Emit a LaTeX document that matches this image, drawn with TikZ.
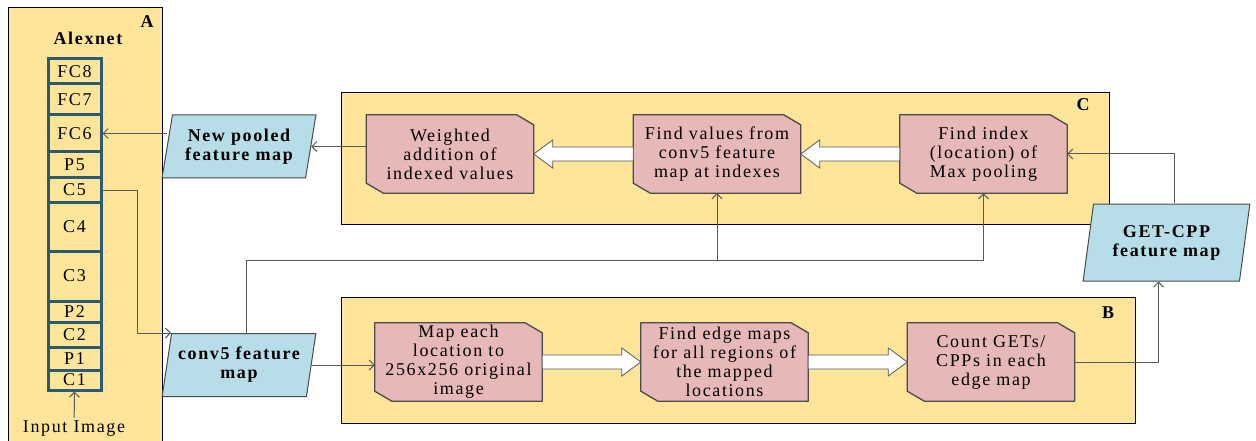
\documentclass[tikz,border=0pt]{standalone}
\usepackage{fontspec}
\setmainfont{Liberation Serif}[LetterSpace=9]
\usetikzlibrary{shapes.geometric,arrows.meta,calc}

\definecolor{panelyellow}{HTML}{FFE599}
\definecolor{mapblue}{HTML}{B7DDE8}
\definecolor{steppink}{HTML}{E6B8B7}
\definecolor{boxgray}{HTML}{4A4A4A}
\definecolor{linegray}{HTML}{595959}
\definecolor{layerblue}{HTML}{2B5B72}

\pgfdeclarelayer{panels}
\pgfdeclarelayer{boxes}
\pgfsetlayers{panels,boxes,main}

% hollow block arrow from #1 (tail) to #2 (tip), horizontal
\newcommand{\fatarrow}[2]{%
  \path[fatarr] let \p1=(#1), \p2=(#2), \n1={sign(\x2-\x1)} in
    (\x1,\y1+7pt) -- ({\x2-(\n1)*19pt},\y1+7pt) -- ({\x2-(\n1)*19pt},\y1+14pt)
    -- (\x2,\y1) -- ({\x2-(\n1)*19pt},\y1-14pt) -- ({\x2-(\n1)*19pt},\y1-7pt)
    -- (\x1,\y1-7pt) -- cycle;}

\begin{document}
\begin{tikzpicture}[x=1pt, y=-1pt]

\tikzset{
    every node/.append style={font=\fontsize{18}{19}\selectfont},
    panel/.style={draw=black, fill=panelyellow, line width=0.8pt, inner sep=0pt},
    tag/.style={font=\fontsize{18}{19}\selectfont\bfseries},
    layer/.style={draw=layerblue, fill=panelyellow, line width=3pt, minimum width=53pt, inner sep=0pt},
    stepbox/.style={minimum width=167pt, minimum height=78pt, align=center, inner sep=1pt},
    stepedge/.style={draw=boxgray, fill=steppink, line width=1.3pt, line join=round},
    mapbox/.style={trapezium, trapezium left angle=77, trapezium right angle=103, trapezium stretches=true,
        draw=boxgray, fill=mapblue, line width=1pt, minimum width=154pt, minimum height=63pt,
        align=center, inner sep=1pt, font=\fontsize{18}{19}\selectfont\bfseries},
    link/.style={draw=linegray, line width=1pt, -{Straight Barb[length=5pt, width=10pt]}},
    fatarr/.style={draw=linegray, fill=white, line width=0.8pt}
}
\useasboundingbox (0,0) rectangle (1256,441);

% panels
\begin{pgfonlayer}{panels}
\node[panel, minimum width=154pt, minimum height=440pt] (panelA) at (85,227) {};
\node[panel, minimum width=768pt, minimum height=132pt] (panelC) at (725,158) {};
\node[panel, minimum width=794pt, minimum height=126pt] (panelB) at (738,360) {};
\end{pgfonlayer}
\node[tag] at (147,22) {A};
\node[tag] at (1083,105) {C};
\node[tag] at (1108,313) {B};
\node[tag] (alexnet) at (88,38) {Alexnet};

% alexnet layers, top to bottom
\foreach \lbl/\ytop/\ybot [evaluate=\ytop as \h using \ybot-\ytop,
                           evaluate=\ytop as \yc using (\ytop+\ybot)/2] in
    {FC8/59/84, FC7/84/115, FC6/115/152, P5/152/178, C5/178/202, C4/202/251,
     C3/251/301, P2/301/322, C2/322/347, P1/347/370, C1/370/390}
    \node[layer, minimum height=\h pt] (\lbl) at (74.5,\yc) {\lbl};
\node (input) at (74,429) {Input Image};

% feature maps
\node[mapbox] (newpool) at (239,146.5) {New pooled\\feature map};
\node[mapbox] (conv5) at (239,365) {conv5 feature\\map};
\node[mapbox, trapezium left angle=78, trapezium right angle=102,
      minimum width=167pt, minimum height=77pt] (getcpp) at (1166.5,242.5) {GET-CPP\\feature map};

% steps of C
\node[stepbox] (weighted) at (450,154) {Weighted\\addition of\\indexed values};
\node[stepbox] (findval) at (717,154) {Find values from\\conv5 feature\\map at indexes};
\node[stepbox] (findidx) at (983.5,154) {Find index\\(location) of\\Max pooling};

% steps of B
\node[stepbox] (mapeach) at (458.5,362) {Map each\\location to\\256x256 original\\image};
\node[stepbox] (findedge) at (724.5,362) {Find edge maps\\for all regions of\\the mapped\\locations};
\node[stepbox] (countget) at (991,362) {Count GETs/\\CPPs in each\\edge map};

% cut corners behind the step texts
\begin{pgfonlayer}{boxes}
\foreach \n in {weighted, findval, findidx, mapeach, findedge, countget}
    \draw[stepedge] (\n.north west) -- ([xshift=-17pt]\n.north east) -- ([yshift=-10pt]\n.north east)
        -- (\n.south east) -- ([xshift=17pt]\n.south west) -- ([yshift=10pt]\n.south west) -- cycle;
\end{pgfonlayer}

% block arrows
\fatarrow{findidx.west}{findval.east}
\fatarrow{findval.west}{weighted.east}
\fatarrow{mapeach.east}{findedge.west}
\fatarrow{findedge.east}{countget.west}

% connectors
\coordinate (bus) at (0,260);
\draw[link] (input) -- (C1.south);
\draw[link] (C5.east) -- ++(35,0) |- (conv5.top left corner);
\draw[link] (conv5.east) -- (conv5.east -| mapeach.west);
\draw[link] ([xshift=7pt]conv5.north) |- (bus -| findidx.south) -- (findidx.south);
\draw[link] (bus -| findval.south) -- (findval.south);
\draw[link] (countget.east) -| ([xshift=-8pt]getcpp.south);
\draw[link] ([xshift=8pt]getcpp.north) |- (findidx.east);
\draw[link] (weighted.west |- newpool.east) -- (newpool.east);
\draw[link] (FC6.east -| newpool.west) -- (FC6.east);

\end{tikzpicture}
\end{document}
